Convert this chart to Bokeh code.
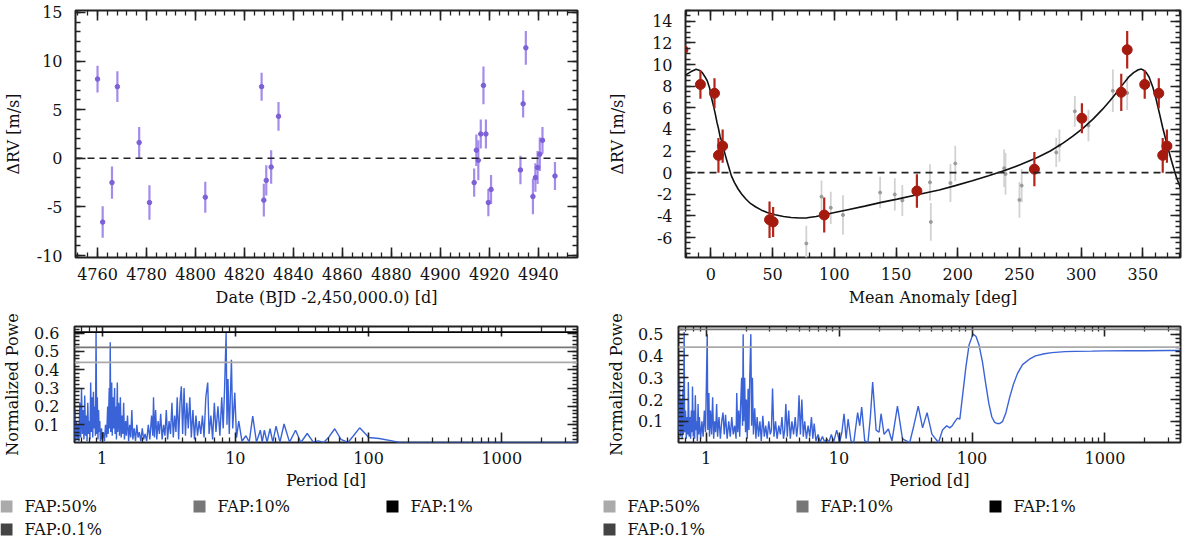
from bokeh.plotting import figure
from bokeh.models import (ColumnDataSource, Range1d, Span, LinearAxis, LogAxis,
                          SingleIntervalTicker, FixedTicker, NumeralTickFormatter)
from bokeh.core.properties import value
from bokeh.layouts import column, row
from bokeh.embed import file_html
from bokeh.resources import INLINE

FONT = "DejaVu Serif"

# ---------------- data: RV time series (top left) ----------------
date = [4760.0, 4762.1, 4765.9, 4768.1, 4777.0, 4781.2, 4804.0, 4827.0, 4827.9, 4828.9,
        4830.9, 4833.9, 4913.8, 4914.7, 4915.5, 4916.5, 4917.6, 4918.6, 4919.6, 4920.7,
        4932.7, 4933.8, 4934.9, 4937.8, 4938.8, 4939.7, 4940.6, 4941.7, 4946.8]
rv = [8.15, -6.56, -2.5, 7.37, 1.62, -4.55, -4.0, 7.37, -4.3, -2.27,
      -0.9, 4.32, -2.5, 0.84, -0.2, 2.5, 7.5, 2.5, -4.55, -3.2,
      -1.2, 5.6, 11.36, -3.93, -1.98, -0.94, 0.42, 1.85, -1.82]
rv_err = [1.38, 1.62, 1.67, 1.59, 1.59, 1.77, 1.59, 1.44, 1.69, 1.56,
          1.72, 1.48, 1.46, 1.62, 2.06, 1.49, 1.95, 1.49, 1.40, 1.49,
          1.46, 1.40, 1.74, 1.82, 1.46, 1.70, 1.72, 1.38, 1.44]

# ---------------- data: phased RV (top right) ----------------
red_phase = [-22.7, -8.5, 2.9, 6.1, 9.5, 47.5, 50.4, 91.8, 166.9, 262.1, 300.6, 332.5,
             337.3, 351.5, 362.9, 366.1, 369.5]
red_rv = [11.37, 8.16, 7.34, 1.6, 2.46, -4.36, -4.56, -3.92, -1.7, 0.32, 5.03, 7.43,
          11.37, 8.16, 7.34, 1.6, 2.46]
red_err = [1.73, 1.32, 1.39, 1.61, 1.54, 1.68, 1.39, 1.61, 1.54, 1.58, 1.39, 1.73,
           1.73, 1.32, 1.39, 1.61, 1.54]

gray_phase = [77.3, 89.6, 97.1, 107.0, 137.1, 149.0, 155.1, 177.5, 178.2, 194.1, 198.0,
              237.6, 238.7, 250.0, 251.8, 279.8, 282.4, 294.9, 305.9, 325.7, 337.3]
gray_rv = [-6.55, -2.22, -3.25, -3.92, -1.84, -2.02, -2.57, -0.9, -4.56, -0.96, 0.85,
           0.41, -0.12, -2.52, -1.2, 1.87, 2.5, 5.67, 4.36, 7.57, 7.37]
gray_err = [1.64, 1.49, 1.49, 1.83, 1.46, 1.49, 1.43, 1.67, 1.75, 1.75, 1.64,
            1.73, 1.93, 1.65, 1.54, 1.35, 1.49, 1.43, 1.46, 1.97, 1.58]

model_phase = [-20.5, -16, -12, -9, -7, -5, -3, -1, 0.3, 2, 3.4, 5, 6.1, 7.5, 9.3, 11,
               12.7, 14.5, 16.6, 19, 21.9, 25, 28.5, 32, 36.4, 41, 45.6, 52, 58.8, 65,
               72, 78, 85.2, 92, 98.3, 110, 124.7, 138, 151, 167, 185, 198, 211.8, 225,
               238, 251, 264.5, 275, 285.6, 293, 301.4, 310, 317.2, 323, 327.8, 333,
               338.4, 342.5, 346.3, 348.9, 351, 352.8, 355, 358.1, 360.5, 363.4, 366,
               368.7, 371, 373.2, 375.5, 377.4, 380.5]
model_rv = [9.04, 9.35, 9.56, 9.45, 9.25, 8.9, 8.5, 7.8, 7.0, 6.2, 5.5, 4.6, 4.1, 3.3, 2.7, 1.9,
            1.2, 0.5, -0.3, -0.9, -1.49, -2.0, -2.46, -2.85, -3.18, -3.47, -3.68, -3.9, -4.06, -4.15,
            -4.2, -4.18, -4.06, -3.9, -3.74, -3.45, -3.1, -2.75, -2.45, -2.05, -1.6, -1.2, -0.75, -0.28,
            0.2, 0.75, 1.4, 2.0, 2.75, 3.35, 4.1, 5.0, 5.85, 6.6, 7.28, 8.05,
            8.83, 9.25, 9.52, 9.58, 9.45, 9.25, 8.85, 7.9, 6.9, 5.5, 4.2,
            3.0, 2.0, 1.1, 0.2, -0.5, -1.4]

# ---------------- data: periodograms ----------------
perL = [0.62, 0.625, 0.63, 0.64, 0.65, 0.66, 0.67, 0.68, 0.69, 0.70, 0.71, 0.72, 0.73, 0.74, 0.75, 0.76, 0.77, 0.78, 0.79, 0.80,
        0.81, 0.82, 0.83, 0.84, 0.85, 0.86, 0.87, 0.88, 0.89, 0.90, 0.91, 0.92, 0.93, 0.94, 0.95, 0.96, 0.97, 0.99, 1.00, 1.02,
        1.04, 1.06, 1.08, 1.10, 1.11, 1.13, 1.14, 1.15, 1.16, 1.18, 1.19, 1.21, 1.22, 1.24, 1.25, 1.27, 1.28, 1.30, 1.31, 1.33,
        1.35, 1.37, 1.39, 1.41, 1.43, 1.45, 1.47, 1.50, 1.52, 1.55, 1.58, 1.61, 1.64, 1.67, 1.70, 1.74, 1.78, 1.82, 1.86, 1.90,
        1.95, 2.00, 2.05, 2.10, 2.16, 2.22, 2.28, 2.35, 2.40, 2.43, 2.47, 2.52, 2.57, 2.63, 2.69, 2.75, 2.82, 2.89, 2.96, 3.03,
        3.10, 3.18, 3.26, 3.34, 3.42, 3.50, 3.58, 3.66, 3.75, 3.84, 3.93, 4.02, 4.12, 4.22, 4.32, 4.43, 4.55, 4.67, 4.80, 4.93,
        5.06, 5.20, 5.35, 5.50, 5.66, 5.82, 6.00, 6.20, 6.35, 6.55, 6.75, 6.95, 7.15, 7.40, 7.65, 7.90, 8.10, 8.30, 8.52, 8.65,
        8.80, 9.00, 9.34, 9.55, 9.90, 10.2, 10.6, 11.2, 12.0, 12.7, 13.5, 14.4, 15.4, 15.9, 16.5, 17.3, 18.2, 19.1, 20.2, 21.6,
        23.2, 25.5, 28.3, 31.0, 34.6, 38.5, 41.9, 46.0, 50.0, 55.7, 62.0, 70.0, 77.0, 85.7, 95.0, 100, 120, 150, 170, 3700]
powL = [0.02, 0.18, 0.01, 0.12, 0.02, 0.10, 0.01, 0.22, 0.03, 0.30, 0.05, 0.18, 0.02, 0.26, 0.04, 0.15, 0.01, 0.22, 0.05, 0.12,
        0.02, 0.33, 0.06, 0.25, 0.03, 0.28, 0.08, 0.20, 0.04, 0.60, 0.05, 0.25, 0.02, 0.18, 0.06, 0.12, 0.01, 0.08, 0.02, 0.06,
        0.01, 0.10, 0.03, 0.20, 0.05, 0.30, 0.08, 0.55, 0.06, 0.33, 0.04, 0.25, 0.08, 0.30, 0.05, 0.20, 0.02, 0.33, 0.06, 0.22,
        0.04, 0.25, 0.03, 0.15, 0.05, 0.22, 0.02, 0.12, 0.04, 0.15, 0.01, 0.10, 0.03, 0.18, 0.02, 0.08, 0.01, 0.10, 0.03, 0.06,
        0.01, 0.08, 0.02, 0.05, 0.01, 0.10, 0.02, 0.15, 0.04, 0.25, 0.03, 0.18, 0.02, 0.12, 0.05, 0.16, 0.02, 0.10, 0.04, 0.18,
        0.02, 0.12, 0.05, 0.22, 0.03, 0.15, 0.06, 0.25, 0.02, 0.22, 0.31, 0.05, 0.30, 0.04, 0.22, 0.08, 0.25, 0.03, 0.18, 0.02,
        0.15, 0.04, 0.12, 0.05, 0.15, 0.03, 0.25, 0.33, 0.05, 0.15, 0.02, 0.22, 0.06, 0.20, 0.04, 0.25, 0.08, 0.30, 0.60, 0.10,
        0.35, 0.05, 0.455, 0.08, 0.275, 0.03, 0.12, 0.01, 0.04, 0.005, 0.147, 0.005, 0.07, 0.005, 0.07, 0.005, 0.078, 0.005, 0.092, 0.005,
        0.104, 0.005, 0.07, 0.003, 0.052, 0.005, 0.012, 0.003, 0.03, 0.078, 0.02, 0.003, 0.04, 0.083, 0.05, 0.03, 0.025, 0.012, 0.003, 0.003]

perR = [0.62, 0.63, 0.64, 0.65, 0.66, 0.67, 0.675, 0.684, 0.69, 0.70, 0.71, 0.72, 0.73, 0.735, 0.745, 0.755, 0.765, 0.775, 0.785, 0.79,
        0.80, 0.81, 0.82, 0.83, 0.84, 0.85, 0.86, 0.87, 0.88, 0.89, 0.91, 0.93, 0.95, 0.97, 0.99, 1.00, 1.02, 1.03, 1.05, 1.06,
        1.08, 1.10, 1.12, 1.14, 1.16, 1.18, 1.20, 1.22, 1.25, 1.28, 1.31, 1.34, 1.37, 1.40, 1.44, 1.48, 1.52, 1.56, 1.60, 1.64,
        1.68, 1.70, 1.73, 1.76, 1.79, 1.82, 1.85, 1.88, 1.90, 1.92, 1.95, 1.98, 2.01, 2.04, 2.07, 2.10, 2.13, 2.17, 2.20, 2.23,
        2.27, 2.32, 2.37, 2.42, 2.48, 2.54, 2.60, 2.67, 2.74, 2.81, 2.88, 2.96, 3.04, 3.10, 3.16, 3.24, 3.33, 3.42, 3.52, 3.62,
        3.72, 3.82, 3.90, 3.98, 4.08, 4.18, 4.30, 4.42, 4.55, 4.68, 4.80, 4.90, 5.00, 5.12, 5.25, 5.38, 5.52, 5.68, 5.85, 6.02,
        6.20, 6.35, 6.50, 6.70, 6.95, 7.20, 7.50, 7.80, 8.10, 8.40, 8.75, 9.10, 9.60, 10.1, 10.5, 10.9, 11.3, 11.7, 12.3, 12.9,
        13.8, 14.3, 14.8, 15.6, 16.5, 17.2, 17.9, 19.0, 20.0, 20.7, 21.8, 23.5, 25.0, 27.5, 30.0, 34.0, 36.5, 39.4, 42.5, 45.9,
        50.0, 56.0, 60.0, 64.5, 68.0, 71.0, 74.5, 77.7, 81.0, 85.0, 90.0, 95.0, 101.7, 107, 113, 120, 127, 134, 141, 148,
        155, 162, 170, 180, 192, 205, 220, 240, 270, 300, 350, 400, 500, 600, 800, 1000, 1500, 2000, 3000, 3700]
powR = [0.05, 0.30, 0.03, 0.20, 0.02, 0.25, 0.04, 0.51, 0.05, 0.15, 0.02, 0.12, 0.04, 0.28, 0.03, 0.12, 0.02, 0.15, 0.05, 0.26,
        0.03, 0.15, 0.02, 0.22, 0.06, 0.10, 0.01, 0.18, 0.04, 0.12, 0.02, 0.10, 0.03, 0.15, 0.05, 0.20, 0.50, 0.06, 0.23, 0.03,
        0.15, 0.04, 0.21, 0.02, 0.10, 0.05, 0.18, 0.03, 0.12, 0.02, 0.10, 0.14, 0.04, 0.13, 0.02, 0.10, 0.03, 0.12, 0.04, 0.08,
        0.02, 0.23, 0.05, 0.15, 0.03, 0.18, 0.30, 0.08, 0.50, 0.10, 0.30, 0.05, 0.20, 0.02, 0.25, 0.06, 0.30, 0.50, 0.08, 0.30,
        0.04, 0.16, 0.02, 0.12, 0.03, 0.10, 0.01, 0.125, 0.03, 0.08, 0.02, 0.10, 0.04, 0.06, 0.25, 0.03, 0.10, 0.02, 0.08, 0.04,
        0.12, 0.02, 0.06, 0.18, 0.03, 0.15, 0.02, 0.10, 0.04, 0.12, 0.03, 0.08, 0.22, 0.04, 0.20, 0.03, 0.10, 0.02, 0.08, 0.03,
        0.12, 0.02, 0.09, 0.01, 0.04, 0.005, 0.03, 0.005, 0.02, 0.005, 0.04, 0.005, 0.06, 0.005, 0.05, 0.135, 0.02, 0.11, 0.01, 0.003,
        0.14, 0.08, 0.165, 0.01, 0.003, 0.12, 0.28, 0.06, 0.05, 0.135, 0.04, 0.065, 0.01, 0.17, 0.02, 0.003, 0.08, 0.17, 0.07, 0.14,
        0.04, 0.003, 0.06, 0.08, 0.07, 0.08, 0.10, 0.115, 0.11, 0.22, 0.35, 0.45, 0.50, 0.49, 0.45, 0.37, 0.27, 0.18, 0.12, 0.095,
        0.09, 0.09, 0.10, 0.14, 0.21, 0.27, 0.32, 0.36, 0.385, 0.40, 0.41, 0.415, 0.42, 0.421, 0.422, 0.423, 0.424, 0.424, 0.425, 0.425]

fap_labels = ["FAP:50%", "FAP:10%", "FAP:1%", "FAP:0.1%"]
fap_levels = [0.44, 0.522, 0.605, 0.70]
fap_colors = ["#aaaaaa", "#777777", "#000000", "#444444"]

date_ticks_interval = 20
phase_ticks_interval = 50
period_ticks = [1, 10, 100, 1000]
power_ticks = [0.1, 0.2, 0.3, 0.4, 0.5, 0.6]


def style_axis(ax, labels=True, label_standoff=12, axis_label_standoff=10):
    ax.major_tick_in = 10
    ax.major_tick_out = 0
    ax.minor_tick_in = 5
    ax.minor_tick_out = 0
    ax.major_tick_line_width = 1.6
    ax.minor_tick_line_width = 1.3
    ax.major_tick_line_color = "#222222"
    ax.minor_tick_line_color = "#222222"
    ax.axis_line_color = None
    ax.major_label_text_font = FONT
    ax.axis_label_text_font = FONT
    ax.axis_label_text_font_size = "16px"
    ax.axis_label_text_font_style = "normal"
    ax.axis_label_text_color = "#111111"
    if labels:
        ax.major_label_text_font_size = "16px"
        ax.major_label_text_color = "#111111"
        ax.major_label_standoff = label_standoff
        ax.axis_label_standoff = axis_label_standoff
    else:
        ax.major_label_text_font_size = "1px"
        ax.major_label_text_color = None
        ax.major_label_standoff = 0
        ax.axis_label = None


def base_fig(width, height, xr, yr, bl, br, bt, bb, log=False):
    p = figure(width=width, height=height, x_range=xr, y_range=yr,
               x_axis_type="log" if log else "linear",
               output_backend="svg", toolbar_location=None,
               min_border_left=bl, min_border_right=br,
               min_border_top=bt, min_border_bottom=bb)
    p.grid.visible = False
    p.outline_line_color = "#222222"
    p.outline_line_width = 2
    p.background_fill_color = "white"
    p.border_fill_color = "white"
    return p


def mirror_axes(p, xticker, yticker, log=False):
    top = LogAxis(ticker=xticker) if log else LinearAxis(ticker=xticker)
    top.formatter = NumeralTickFormatter(format="0")
    style_axis(top, labels=False)
    p.add_layout(top, "above")
    right = LinearAxis(ticker=yticker)
    right.formatter = NumeralTickFormatter(format="0.0")
    style_axis(right, labels=False)
    p.add_layout(right, "right")


TOP_H = 312
LEG_H = 46
BOT_H = 540 - TOP_H - LEG_H

# ---------------- top left: RV vs date ----------------
p1 = base_fig(592, TOP_H, Range1d(4751, 4956), Range1d(-10.2, 15.2), 69, 15, 10, 55)
src1 = ColumnDataSource(dict(x=date, y=rv,
                             lo=[v - e for v, e in zip(rv, rv_err)],
                             hi=[v + e for v, e in zip(rv, rv_err)]))
p1.add_layout(Span(location=0, dimension="width", line_color="#222222",
                   line_dash="7 5", line_width=1.6))
p1.segment(x0="x", y0="lo", x1="x", y1="hi", source=src1,
           line_color="#a48cea", line_width=2.2)
p1.scatter("x", "y", source=src1, size=4.5, color="#7d5fd8")
p1.xaxis.ticker = SingleIntervalTicker(interval=date_ticks_interval, num_minor_ticks=5)
p1.yaxis.ticker = SingleIntervalTicker(interval=5, num_minor_ticks=5)
p1.xaxis.formatter = NumeralTickFormatter(format="0")
p1.yaxis.formatter = NumeralTickFormatter(format="0")
p1.xaxis.axis_label = "Date (BJD -2,450,000.0) [d]"
p1.yaxis.axis_label = "\u0394RV [m/s]"
style_axis(p1.xaxis[0], label_standoff=10, axis_label_standoff=5)
style_axis(p1.yaxis[0], label_standoff=13, axis_label_standoff=11)
mirror_axes(p1, SingleIntervalTicker(interval=date_ticks_interval, num_minor_ticks=5),
            SingleIntervalTicker(interval=5, num_minor_ticks=5))

# ---------------- top right: phased RV ----------------
p2 = base_fig(592, TOP_H, Range1d(-20.6, 380.5), Range1d(-7.85, 15.0), 93, 4, 10, 55)
srcg = ColumnDataSource(dict(x=gray_phase, y=gray_rv,
                             lo=[v - e for v, e in zip(gray_rv, gray_err)],
                             hi=[v + e for v, e in zip(gray_rv, gray_err)]))
srcr = ColumnDataSource(dict(x=red_phase, y=red_rv,
                             lo=[v - e for v, e in zip(red_rv, red_err)],
                             hi=[v + e for v, e in zip(red_rv, red_err)]))
p2.add_layout(Span(location=0, dimension="width", line_color="#222222",
                   line_dash="7 5", line_width=1.6))
p2.segment(x0="x", y0="lo", x1="x", y1="hi", source=srcg,
           line_color="#d2d2d2", line_width=1.8)
p2.scatter("x", "y", source=srcg, size=3, color="#9a9a9a")
p2.line(model_phase, model_rv, line_color="#111111", line_width=1.6)
p2.segment(x0="x", y0="lo", x1="x", y1="hi", source=srcr,
           line_color="#b3241a", line_width=2.2)
p2.scatter("x", "y", source=srcr, size=10, color="#a51a0e")
p2.xaxis.ticker = SingleIntervalTicker(interval=phase_ticks_interval, num_minor_ticks=5)
p2.yaxis.ticker = SingleIntervalTicker(interval=2, num_minor_ticks=4)
p2.xaxis.formatter = NumeralTickFormatter(format="0")
p2.yaxis.formatter = NumeralTickFormatter(format="0")
p2.xaxis.axis_label = "Mean Anomaly [deg]"
p2.yaxis.axis_label = "\u0394RV [m/s]"
style_axis(p2.xaxis[0], label_standoff=10, axis_label_standoff=5)
style_axis(p2.yaxis[0], label_standoff=13, axis_label_standoff=22)
mirror_axes(p2, SingleIntervalTicker(interval=phase_ticks_interval, num_minor_ticks=5),
            SingleIntervalTicker(interval=2, num_minor_ticks=4))


# ---------------- bottom: periodograms ----------------
def log_minor():
    out = []
    for d in [0.1, 1, 10, 100, 1000]:
        for k in range(2, 10):
            out.append(k * d)
    return out


def periodogram(per, pw, ytop, bl):
    p = base_fig(592, BOT_H, Range1d(0.62, 3700), Range1d(0.003, ytop), bl,
                 15 if bl < 80 else 4, 14, 52, log=True)
    for lev, col in zip(fap_levels, fap_colors):
        p.add_layout(Span(location=lev, dimension="width", line_color=col, line_width=1.8))
    p.line(per, pw, line_color="#3a63d8", line_width=1.4)
    yminor = [round(0.02 * i, 2) for i in range(1, 40)]
    p.xaxis.ticker = FixedTicker(ticks=period_ticks, minor_ticks=log_minor())
    p.xaxis.formatter = NumeralTickFormatter(format="0")
    p.yaxis.ticker = FixedTicker(ticks=power_ticks, minor_ticks=yminor)
    p.yaxis.formatter = NumeralTickFormatter(format="0.0")
    p.xaxis.axis_label = "Period [d]"
    p.yaxis.axis_label = "Normalized Powe"
    style_axis(p.xaxis[0], label_standoff=9, axis_label_standoff=4)
    style_axis(p.yaxis[0], label_standoff=15, axis_label_standoff=9)
    mirror_axes(p, FixedTicker(ticks=period_ticks, minor_ticks=log_minor()),
                FixedTicker(ticks=power_ticks, minor_ticks=yminor), log=True)
    return p


def fap_key(x0):
    # key for the FAP levels: 3 columns, wrapped to a second row
    q = figure(width=592, height=LEG_H, x_range=Range1d(0, 592), y_range=Range1d(LEG_H, 0),
               output_backend="svg", toolbar_location=None,
               x_axis_location=None, y_axis_location=None,
               min_border_left=0, min_border_right=0, min_border_top=0, min_border_bottom=0)
    q.grid.visible = False
    q.outline_line_color = None
    q.background_fill_color = "white"
    q.border_fill_color = "white"
    cols = [i % 3 for i in range(len(fap_labels))]
    rows = [i // 3 for i in range(len(fap_labels))]
    src = ColumnDataSource(dict(
        sx=[x0 + 6 + 193 * c for c in cols],
        tx=[x0 + 24 + 193 * c for c in cols],
        y=[12 + 23 * r for r in rows],
        color=fap_colors, label=fap_labels))
    q.rect(x="sx", y="y", width=12, height=12, fill_color="color", line_color=None, source=src)
    q.text(x="tx", y="y", text="label", source=src, text_font=value(FONT),
           text_font_size="16px", text_baseline="middle", text_color="#111111")
    return q


p3 = periodogram(perL, powL, 0.636, 70)
p4 = periodogram(perR, powR, 0.535, 86)
k3 = fap_key(0)
k4 = fap_key(11)

layout = column(row(p1, p2), row(p3, p4), row(k3, k4))
open("out.html", "w").write(file_html(layout, INLINE))
